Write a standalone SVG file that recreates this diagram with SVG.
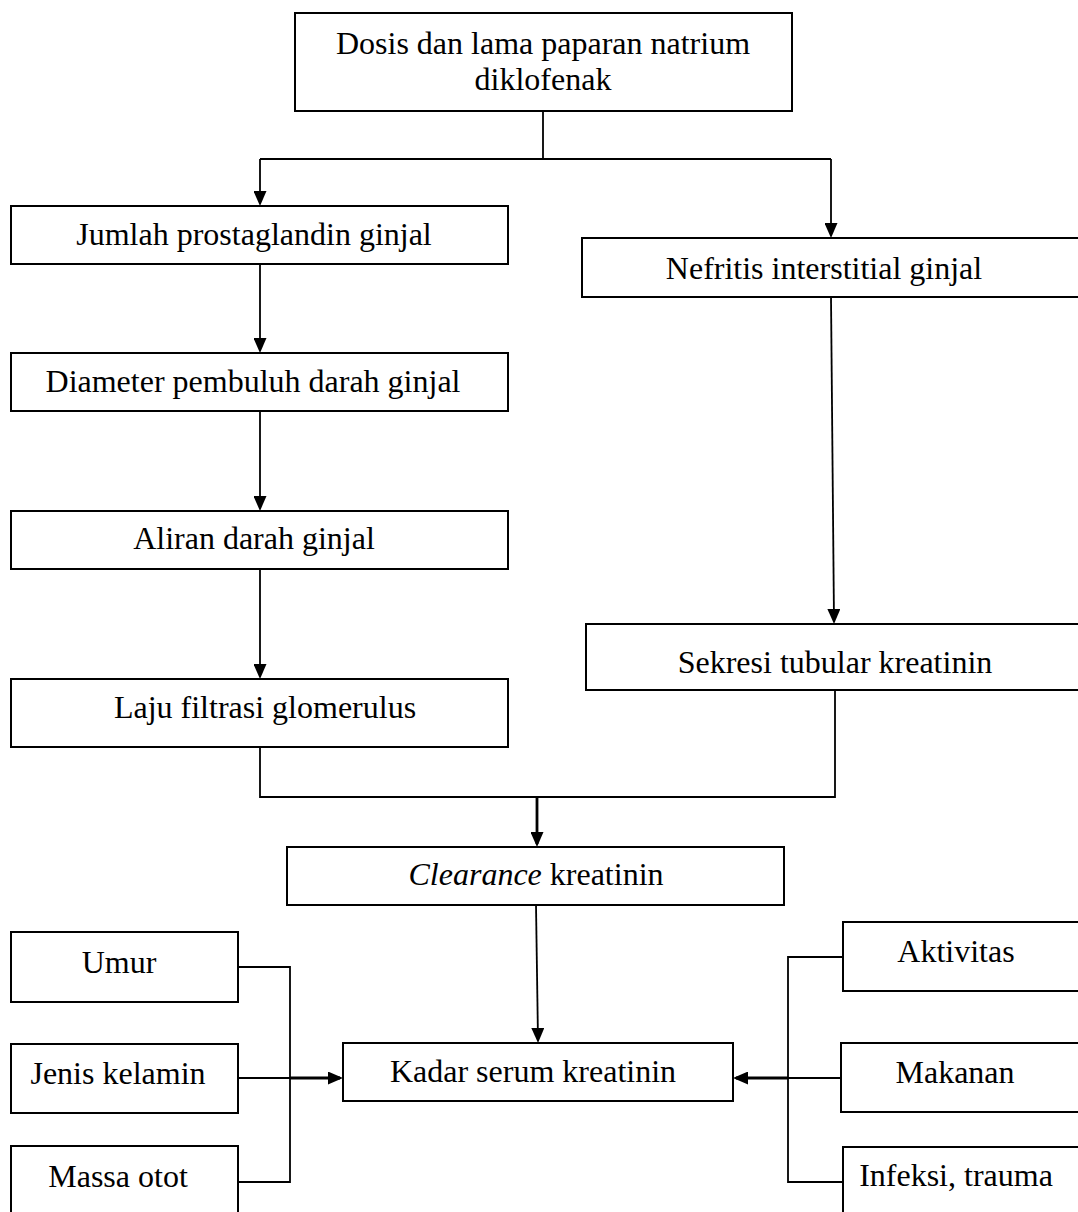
<svg xmlns="http://www.w3.org/2000/svg" width="1078" height="1212" viewBox="0 0 1078 1212">
<style>
.box{fill:#fff;stroke:#000;stroke-width:2}
.t{font-family:"Liberation Serif","Times New Roman",serif;font-size:32px;fill:#000;text-anchor:middle}
.c{fill:none;stroke:#000;stroke-width:1.8}
.a{fill:none;stroke:#000;stroke-width:1.8;marker-end:url(#ah)}
.ak{fill:none;stroke:#000;stroke-width:2.8;marker-end:url(#ah)}
</style>
<defs>
<marker id="ah" markerUnits="userSpaceOnUse" markerWidth="15" markerHeight="13" refX="12" refY="6.5" orient="auto">
<path d="M0,0 L15,6.5 L0,13 Z" fill="#000"/>
</marker>
</defs>
<rect width="1078" height="1212" fill="#fff"/>
<g id="connectors">
<path class="c" d="M543,111 V159 M260,159 H831"/>
<line class="a" x1="260" y1="159" x2="260" y2="203"/>
<line class="a" x1="831" y1="159" x2="831" y2="235"/>
<line class="a" x1="260" y1="264" x2="260" y2="350"/>
<line class="a" x1="260" y1="411" x2="260" y2="508"/>
<line class="a" x1="260" y1="569" x2="260" y2="676"/>
<line class="a" x1="831" y1="297" x2="834" y2="621"/>
<path class="c" d="M260,747 V797 H835 V690"/>
<line class="ak" x1="537" y1="797" x2="537" y2="844"/>
<line class="a" x1="536" y1="905" x2="538" y2="1040"/>
<path class="c" d="M238,967 H290 V1182 H238 M238,1078 H290"/>
<line class="ak" x1="290" y1="1078" x2="340" y2="1078"/>
<path class="c" d="M843,957 H788 V1182 H843 M841,1078 H788"/>
<line class="ak" x1="788" y1="1078" x2="736" y2="1078"/>
</g>
<g id="n-dosis">
<rect class="box" x="295" y="13" width="497" height="98"/>
<text class="t" x="543" y="54">Dosis dan lama paparan natrium</text>
<text class="t" x="543" y="90">diklofenak</text>
</g>
<g id="n-jumlah">
<rect class="box" x="11" y="206" width="497" height="58"/>
<text class="t" x="254" y="245">Jumlah prostaglandin ginjal</text>
</g>
<g id="n-diameter">
<rect class="box" x="11" y="353" width="497" height="58"/>
<text class="t" x="253" y="392">Diameter pembuluh darah ginjal</text>
</g>
<g id="n-aliran">
<rect class="box" x="11" y="511" width="497" height="58"/>
<text class="t" x="254" y="549">Aliran darah ginjal</text>
</g>
<g id="n-laju">
<rect class="box" x="11" y="679" width="497" height="68"/>
<text class="t" x="265" y="718">Laju filtrasi glomerulus</text>
</g>
<g id="n-nefritis">
<rect class="box" x="582" y="238" width="500" height="59"/>
<text class="t" x="824" y="279">Nefritis interstitial ginjal</text>
</g>
<g id="n-sekresi">
<rect class="box" x="586" y="624" width="500" height="66"/>
<text class="t" x="835" y="673">Sekresi tubular kreatinin</text>
</g>
<g id="n-clearance">
<rect class="box" x="287" y="847" width="497" height="58"/>
<text class="t" x="536" y="885"><tspan font-style="italic">Clearance</tspan> kreatinin</text>
</g>
<g id="n-kadar">
<rect class="box" x="343" y="1043" width="390" height="58"/>
<text class="t" x="533" y="1082">Kadar serum kreatinin</text>
</g>
<g id="n-umur">
<rect class="box" x="11" y="932" width="227" height="70"/>
<text class="t" x="119" y="973">Umur</text>
</g>
<g id="n-jenis">
<rect class="box" x="11" y="1044" width="227" height="69"/>
<text class="t" x="118" y="1084">Jenis kelamin</text>
</g>
<g id="n-massa">
<rect class="box" x="11" y="1146" width="227" height="80"/>
<text class="t" x="118" y="1187">Massa otot</text>
</g>
<g id="n-aktivitas">
<rect class="box" x="843" y="922" width="240" height="69"/>
<text class="t" x="956" y="962">Aktivitas</text>
</g>
<g id="n-makanan">
<rect class="box" x="841" y="1043" width="242" height="69"/>
<text class="t" x="955" y="1083">Makanan</text>
</g>
<g id="n-infeksi">
<rect class="box" x="843" y="1147" width="240" height="80"/>
<text class="t" x="956" y="1186">Infeksi, trauma</text>
</g>
</svg>
